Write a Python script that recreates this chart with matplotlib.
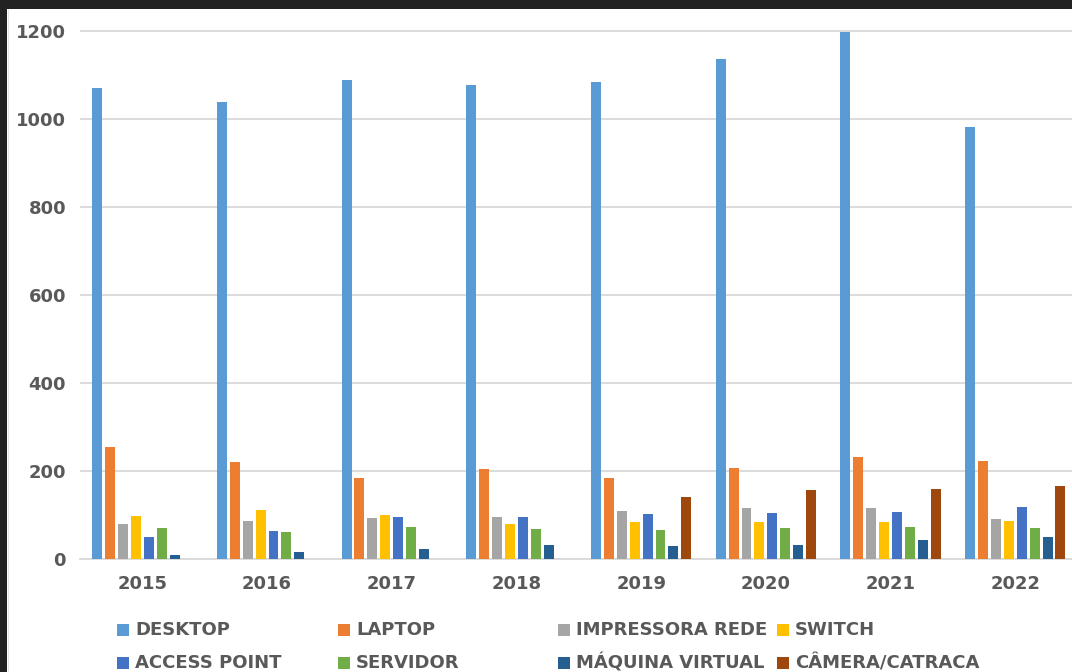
import matplotlib
matplotlib.use("Agg")
import matplotlib.pyplot as plt
from matplotlib.patches import Rectangle
import numpy as np

years = ["2015", "2016", "2017", "2018", "2019", "2020", "2021", "2022"]
desktop = [1071, 1037, 1087, 1077, 1083, 1135, 1196, 982]
laptop = [255, 221, 185, 204, 185, 208, 232, 223]
impressora = [80, 88, 94, 97, 110, 116, 117, 92]
switch = [99, 112, 100, 81, 84, 85, 84, 86]
access_point = [50, 65, 97, 97, 103, 106, 107, 118]
servidor = [71, 63, 73, 69, 67, 71, 73, 71]
maquina_virtual = [10, 16, 23, 33, 31, 33, 44, 50]
camera = [0, 0, 0, 0, 142, 158, 160, 167]

series_names = ["DESKTOP", "LAPTOP", "IMPRESSORA REDE", "SWITCH",
                "ACCESS POINT", "SERVIDOR", "MÁQUINA VIRTUAL", "CÂMERA/CATRACA"]
series_values = [desktop, laptop, impressora, switch,
                 access_point, servidor, maquina_virtual, camera]
colors = ["#5B9BD5", "#ED7D31", "#A5A5A5", "#FFC000",
          "#4472C4", "#70AD47", "#255E91", "#9E480E"]
yticks = [0, 200, 400, 600, 800, 1000, 1200]

W, H = 1072, 672
fig = plt.figure(figsize=(W / 100, H / 100), dpi=100)
fig.patch.set_facecolor("#222222")
fig.patches.append(Rectangle((7 / W, 0), 1, 1 - 8.5 / H, transform=fig.transFigure,
                             facecolor="white", edgecolor="none", zorder=-3))
fig.patches.append(Rectangle((7.5 / W, 0), 1.5 / W, 1 - 8.5 / H, transform=fig.transFigure,
                             facecolor="#E4E4E4", edgecolor="none", zorder=-2))

left, right, top, bottom = 80, 1077.6, 29.8, 559.3
ax = fig.add_axes([left / W, 1 - bottom / H, (right - left) / W, (bottom - top) / H])
ax.set_facecolor("none")

x = np.arange(len(years))
pitch = 0.1035
width = 0.08
for j, (name, vals, c) in enumerate(zip(series_names, series_values, colors)):
    ax.bar(x + (j - 3.5) * pitch, vals, width=width, color=c, label=name, zorder=3)

ax.set_xlim(-0.5, len(years) - 0.5)
ax.set_ylim(0, 1202)
ax.set_yticks(yticks)
ax.set_xticks(x)
ax.set_xticklabels(years)
ax.yaxis.grid(True, color="#D9D9D9", linewidth=1.3, zorder=0)
ax.set_axisbelow(True)
for s in ["top", "right", "left"]:
    ax.spines[s].set_visible(False)
ax.spines["bottom"].set_color("#D9D9D9")
ax.spines["bottom"].set_linewidth(1.3)
ax.tick_params(axis="both", length=0, labelsize=13, labelcolor="#595959")
ax.tick_params(axis="y", pad=10)
ax.tick_params(axis="x", pad=11)
for lab in ax.get_xticklabels() + ax.get_yticklabels():
    lab.set_fontweight("bold")

# legend (manual, 4 columns x 2 rows)
col_x = [117, 338, 558, 777]
row_y = [630, 663]
for j, (name, c) in enumerate(zip(series_names, colors)):
    cx = col_x[j % 4]
    cy = row_y[j // 4]
    fig.patches.append(Rectangle((cx / W, 1 - (cy + 6) / H), 12 / W, 12 / H,
                                 transform=fig.transFigure, facecolor=c,
                                 edgecolor="none", zorder=2))
    fig.text((cx + 18) / W, 1 - cy / H, name, fontsize=13, fontweight="bold",
             color="#595959", va="center", ha="left")

fig.savefig("out.png", dpi=100, facecolor=fig.get_facecolor())
